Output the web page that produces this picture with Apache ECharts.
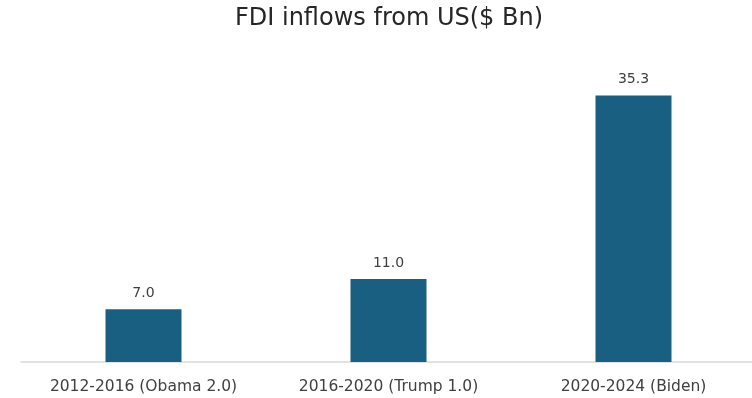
<!DOCTYPE html>
<html>
<head>
<meta charset="utf-8">
<script src="https://cdn.jsdelivr.net/npm/echarts@6/dist/echarts.min.js"></script>
<style>
  html, body { margin: 0; padding: 0; background: #ffffff; }
  #chart { width: 752px; height: 398px; }
</style>
</head>
<body>
<div id="chart"></div>
<script>
// US FDI inflows by presidential term, $ Bn
const periods = ['2012-2016 (Obama 2.0)', '2016-2020 (Trump 1.0)', '2020-2024 (Biden)'];
const inflows = [7.0, 11.0, 35.3];

const chart = echarts.init(document.getElementById('chart'), null, { renderer: 'canvas' });

chart.setOption({
  animation: false,
  backgroundColor: '#ffffff',
  title: {
    text: 'FDI inflows from US($ Bn)',
    left: 384,
    top: 2,
    textAlign: 'center',
    textStyle: {
      fontFamily: 'DejaVu Sans',
      fontSize: 24,
      fontWeight: 'normal',
      color: '#262626'
    }
  },
  grid: {
    left: 21, top: 60, width: 735, height: 302,
    containLabel: false,
    outerBoundsMode: 'none'
  },
  xAxis: {
    type: 'category',
    data: periods,
    axisLine: { show: true, lineStyle: { color: '#d9d9d9', width: 1.5 } },
    axisTick: { show: false },
    axisLabel: {
      margin: 17,
      fontFamily: 'DejaVu Sans',
      fontSize: 15.5,
      color: '#404040'
    }
  },
  yAxis: {
    type: 'value',
    min: 0,
    max: 40,
    show: false,
    splitLine: { show: false }
  },
  series: [{
    type: 'bar',
    data: inflows,
    barWidth: 76,
    itemStyle: { color: '#195f81' },
    label: {
      show: true,
      position: 'top',
      distance: 9,
      formatter: p => p.value.toFixed(1),
      fontFamily: 'DejaVu Sans',
      fontSize: 14,
      color: '#404040'
    }
  }]
});
</script>
</body>
</html>
